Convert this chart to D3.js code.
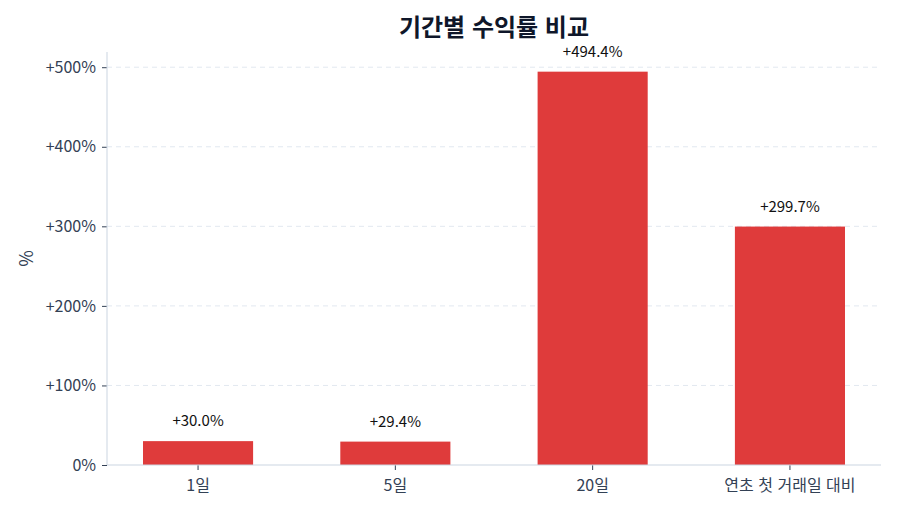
<!DOCTYPE html>
<html lang="ko">
<head>
<meta charset="UTF-8">
<title>기간별 수익률 비교</title>
<script src="https://d3js.org/d3.v7.min.js"></script>
<style>
    body { margin: 0; background: #fff; font-family: "Noto Sans CJK KR", "Noto Sans", sans-serif; }
</style>
</head>
<body>
<div id="chart"></div>
<script>
    // data
    const categories = ["1일", "5일", "20일", "연초 첫 거래일 대비"];
    const returns = [30.0, 29.4, 494.4, 299.7];
    const yTicks = [0, 100, 200, 300, 400, 500];

    const W = 900, H = 514;
    const plot = { left: 107, right: 881, top: 52, bottom: 465 };
    const FONT = '"Noto Sans CJK KR", "Noto Sans", sans-serif';

    const svg = d3.select("#chart").append("svg")
        .attr("width", W).attr("height", H)
        .attr("font-family", FONT);

    const x = d3.scaleBand()
        .domain(categories)
        .range([99.4, 888.6])
        .paddingInner(0.442)
        .paddingOuter(0.221);

    const y = d3.scaleLinear()
        .domain([0, d3.max(returns) * 1.05])
        .range([plot.bottom, plot.top]);

    const fmt = v => (v > 0 ? "+" : "") + d3.format(".0f")(v) + "%";

    // grid lines
    svg.append("g")
        .selectAll("line")
        .data(yTicks.filter(t => t > 0))
        .join("line")
        .attr("x1", plot.left).attr("x2", plot.right)
        .attr("y1", d => y(d)).attr("y2", d => y(d))
        .attr("stroke", "#e2e8f0")
        .attr("stroke-dasharray", "5,4");

    // bars
    svg.append("g")
        .selectAll("rect")
        .data(returns)
        .join("rect")
        .attr("x", (d, i) => x(categories[i]))
        .attr("width", x.bandwidth())
        .attr("y", d => y(d))
        .attr("height", d => y(0) - y(d))
        .attr("fill", "#df3b3b");

    // value labels
    svg.append("g")
        .selectAll("text")
        .data(returns)
        .join("text")
        .attr("x", (d, i) => x(categories[i]) + x.bandwidth() / 2)
        .attr("y", d => y(d) - 15)
        .attr("text-anchor", "middle")
        .attr("font-size", 15)
        .attr("fill", "#111")
        .text(d => "+" + d.toFixed(1) + "%");

    // y axis
    const yAxis = svg.append("g")
        .attr("transform", `translate(${plot.left},0)`)
        .call(d3.axisLeft(y).tickValues(yTicks).tickFormat(fmt).tickSize(5).tickPadding(6))
        .attr("font-family", FONT)
        .attr("font-size", 16);
    yAxis.select(".domain").remove();
    yAxis.selectAll(".tick line").attr("stroke", "#334155");
    yAxis.selectAll(".tick text").attr("fill", "#334155");

    // x axis
    const xAxis = svg.append("g")
        .attr("transform", `translate(0,${plot.bottom})`)
        .call(d3.axisBottom(x).tickSize(5).tickPadding(10))
        .attr("font-family", FONT)
        .attr("font-size", 16);
    xAxis.select(".domain").remove();
    xAxis.selectAll(".tick line").attr("stroke", "#334155");
    xAxis.selectAll(".tick text").attr("fill", "#334155");

    // spines
    svg.append("line")
        .attr("x1", plot.left).attr("x2", plot.left)
        .attr("y1", plot.top).attr("y2", plot.bottom)
        .attr("stroke", "#cbd5e1");
    svg.append("line")
        .attr("x1", plot.left).attr("x2", plot.right)
        .attr("y1", plot.bottom).attr("y2", plot.bottom)
        .attr("stroke", "#cbd5e1");

    // title
    svg.append("text")
        .attr("x", (plot.left + plot.right) / 2)
        .attr("y", 36)
        .attr("text-anchor", "middle")
        .attr("font-size", 24)
        .attr("font-weight", "bold")
        .attr("fill", "#0f172a")
        .text("기간별 수익률 비교");

    // y label
    svg.append("text")
        .attr("transform", `translate(33,${(plot.top + plot.bottom) / 2}) rotate(-90)`)
        .attr("text-anchor", "middle")
        .attr("font-size", 18)
        .attr("fill", "#334155")
        .text("%");
</script>
</body>
</html>
